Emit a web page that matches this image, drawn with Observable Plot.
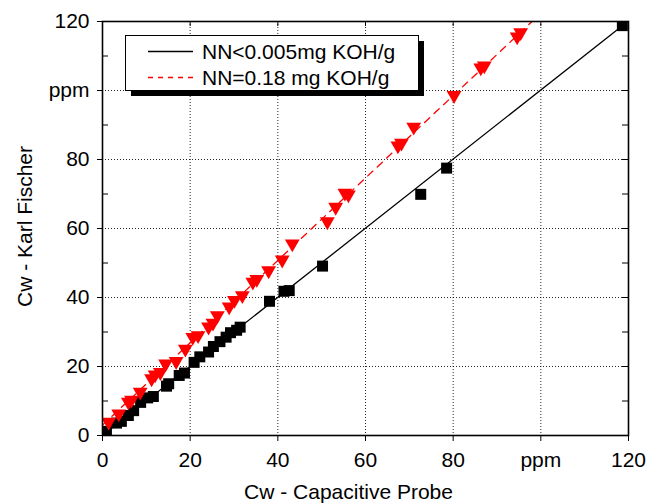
<!DOCTYPE html>
<html><head><meta charset="utf-8">
<script src="https://cdn.jsdelivr.net/npm/d3@7"></script>
<script src="https://cdn.jsdelivr.net/npm/@observablehq/plot@0.6"></script>
<style>
body{margin:0;background:#fff;font-family:"Liberation Sans",Arial,sans-serif;}
#wrap{position:relative;width:657px;height:503px;}
#legend{position:absolute;left:125px;top:35px;}
</style></head><body>
<div id="wrap"><div id="chart"></div><div id="legend"></div></div>
<script>
// ---- data ----
const blackX = [0.9,3.2,4.3,5.9,7.1,8.7,10.3,11.6,14.6,15.1,17.5,18.7,20.9,22.2,24.2,25.3,26.8,28.2,29.2,30.6,31.4,38.1,41.4,42.6,50.2,72.6,78.5,118.6];
const blackY = [1.2,3.6,4.1,5.8,7.2,9.6,10.9,11.3,14.3,15.0,17.4,18.1,21.2,22.8,24.2,25.8,27.2,28.5,29.8,30.5,31.4,38.9,41.8,42.0,49.1,69.9,77.5,118.8];
const redX = [1.4,3.7,5.9,6.6,8.6,11.2,12.0,13.2,14.4,16.8,18.9,20.6,21.8,24.2,25.2,26.2,28.9,30.1,31.9,34.3,35.2,37.9,41.0,43.3,51.3,53.2,55.3,56.1,67.4,68.2,71.0,80.2,86.3,87.1,94.6,95.4];
const redY = [3.9,6.3,9.7,10.3,12.6,16.5,17.6,18.3,20.8,21.5,25.1,28.5,29.0,31.5,32.6,34.8,37.3,39.2,40.6,44.5,45.3,47.8,50.9,55.6,62.0,66.2,70.3,69.8,84.0,84.8,89.4,98.6,106.6,107.2,115.6,116.8];
// fitted lines (endpoints)
const blackLineX = [0, 118.6];
const blackLineY = [0, 118.8];
const redLineX = [0, 98.0];
const redLineY = [3, 120];
const majorTicks = [0,20,40,60,80,100,120];
const innerTicks = [20,40,60,80,100];
const minorTicks = [10,30,50,70,90,110];
const xTitle = "Cw - Capacitive Probe";
const yTitle = "Cw - Karl Fischer";
const seriesNames = ["NN<0.005mg KOH/g", "NN=0.18 mg KOH/g"];

const black = blackX.map((x,i)=>({x, y: blackY[i]}));
const red = redX.map((x,i)=>({x, y: redY[i]}));
const blackLine = blackLineX.map((x,i)=>({x, y: blackLineY[i]}));
const redLine = redLineX.map((x,i)=>({x, y: redLineY[i]}));
const fmt = d => d === 100 ? "ppm" : String(d);

const W=657, H=503, mL=102, mR=29, mT=21, mB=68;
const fw = W-mL-mR, fh = H-mT-mB;
const font = '"Liberation Sans", Arial, sans-serif';

const plot = Plot.plot({
  width: W, height: H, marginLeft: mL, marginRight: mR, marginTop: mT, marginBottom: mB,
  style: {fontFamily: font, fontSize: "21px", color: "#000", background: "#fff", overflow: "visible"},
  x: {domain: [0,120]},
  y: {domain: [0,120]},
  marks: [
    Plot.gridX(innerTicks, {stroke: "#000", strokeOpacity: 0.85, strokeDasharray: "1,2"}),
    Plot.gridY(innerTicks, {stroke: "#000", strokeOpacity: 0.85, strokeDasharray: "1,2"}),
    Plot.line(blackLine, {x: "x", y: "y", stroke: "#000", strokeWidth: 1.3}),
    Plot.line(redLine, {x: "x", y: "y", stroke: "#ff0000", strokeWidth: 1.3, strokeDasharray: "7,6", clip: true}),
    Plot.dot(black, {x: "x", y: "y", symbol: "square", r: 6.2, fill: "#000", clip: true}),
    Plot.dot(red, {x: "x", y: "y", symbol: "triangle", rotate: 180, r: 5.5, fill: "#ff0000", clip: true}),
    Plot.frame({stroke: "#000", strokeWidth: 1.6}),
    Plot.axisX({ticks: majorTicks, tickFormat: fmt, tickSize: 6, tickPadding: 11, label: null, fontSize: 21}),
    Plot.axisY({ticks: majorTicks, tickFormat: fmt, tickSize: 5, tickPadding: 8, label: null, fontSize: 21}),
    Plot.tickX(innerTicks, {x: d => d, insetBottom: fh-5, stroke: "#000"}),
    Plot.tickY(minorTicks, {y: d => d, insetRight: fw-6, stroke: "#000"}),
    Plot.tickY(minorTicks.concat(innerTicks), {y: d => d, insetLeft: fw-6, stroke: "#000"}),
    Plot.text([xTitle], {frameAnchor: "bottom", textAnchor: "middle", lineAnchor: "middle", dy: 57, dx: -17, fontSize: 21}),
    Plot.text([yTitle], {frameAnchor: "left", textAnchor: "middle", lineAnchor: "middle", rotate: -90, dx: -77, dy: -2, fontSize: 21})
  ]
});
document.getElementById("chart").appendChild(plot);

// legend
const lg = d3.select("#legend").append("svg").attr("width", 302).attr("height", 64)
  .style("font-family", font);
lg.append("rect").attr("x", 6).attr("y", 6).attr("width", 293).attr("height", 55).attr("fill", "#000");
lg.append("rect").attr("x", 0.5).attr("y", 0.5).attr("width", 293).attr("height", 55).attr("fill", "#fff").attr("stroke", "#000");
const rows = [
  {name: seriesNames[0], stroke: "#000", dash: null, y: 16.5},
  {name: seriesNames[1], stroke: "#ff0000", dash: "5,5", y: 42.5}
];
rows.forEach(r => {
  lg.append("line").attr("x1", 23).attr("x2", 68).attr("y1", r.y).attr("y2", r.y)
    .attr("stroke", r.stroke).attr("stroke-width", 1.3).attr("stroke-dasharray", r.dash);
  lg.append("text").attr("x", 77).attr("y", r.y).attr("dy", "0.35em")
    .attr("font-size", 21).attr("fill", "#000").text(r.name);
});
</script>
</body></html>
